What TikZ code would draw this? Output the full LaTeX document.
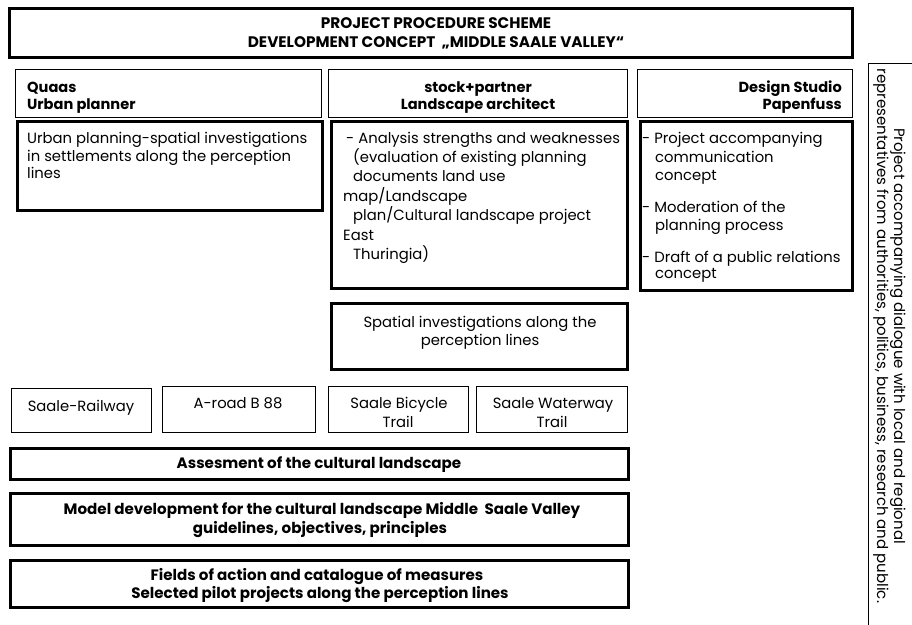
\documentclass[tikz,border=0pt]{standalone}
\usepackage{fontspec}
\setmainfont{Poppins}
\begin{document}
\begin{tikzpicture}[x=1pt,y=-1pt,
  thickbox/.style={draw=black,line width=3.2pt,inner sep=0pt,anchor=north west},
  thinbox/.style={draw=black,line width=0.9pt,inner sep=0pt,anchor=north west},
  body/.style={inner sep=0pt,font=\fontsize{14.8}{17}\selectfont},
  bodyb/.style={inner sep=0pt,font=\fontsize{15.1}{17}\selectfont\bfseries},
  headb/.style={inner sep=0pt,font=\fontsize{14.6}{17}\selectfont\bfseries},
  titleb/.style={inner sep=0pt,font=\fontsize{15.3}{17}\selectfont\bfseries},
  rot/.style={inner sep=0pt,font=\fontsize{15}{17}\selectfont,rotate=-90,anchor=base},
]
\useasboundingbox (0,0) rectangle (912,624);
\fill[white] (0,0) rectangle (912,624);

% boxes
\node[thickbox,minimum width=843pt,minimum height=49pt] (title) at (8,7) {};
\node[thinbox,minimum width=306pt,minimum height=48pt] (qh) at (15,69) {};
\node[thinbox,minimum width=299pt,minimum height=48pt] (sh) at (328,69) {};
\node[thinbox,minimum width=215pt,minimum height=48pt] (dh) at (637,69) {};
\node[thickbox,minimum width=305pt,minimum height=89pt] (qc) at (15.5,119.5) {};
\node[thickbox,minimum width=296pt,minimum height=167.5pt] (sc) at (329.5,119.5) {};
\node[thickbox,minimum width=212pt,minimum height=169pt] (dc) at (638.5,119.5) {};
\node[thickbox,minimum width=296pt,minimum height=66pt] (sp) at (329.5,301.5) {};
\node[thinbox,minimum width=140pt,minimum height=44pt] (rail) at (11,388) {};
\node[thinbox,minimum width=153pt,minimum height=46pt] (road) at (162,386) {};
\node[thinbox,minimum width=140pt,minimum height=46pt] (bike) at (328,386) {};
\node[thinbox,minimum width=151pt,minimum height=46pt] (water) at (476,386) {};
\node[thickbox,minimum width=618pt,minimum height=31pt] (assess) at (8.5,446.5) {};
\node[thickbox,minimum width=618pt,minimum height=52pt] (model) at (8.5,491.5) {};
\node[thickbox,minimum width=618pt,minimum height=47pt] (fields) at (8.5,558.5) {};
\node[thinbox,minimum width=62pt,minimum height=577pt] (dialog) at (868,63) {};

% title
\node[titleb,anchor=base] (t1) at (436,28) {PROJECT PROCEDURE SCHEME};
\node[titleb,anchor=base] (t2) at (436,47) {DEVELOPMENT CONCEPT \ „MIDDLE SAALE VALLEY“};

% headers
\node[headb,anchor=base west] (qh1) at (27,92) {Quaas};
\node[headb,anchor=base west] (qh2) at (27,109) {Urban planner};
\node[headb,anchor=base] (sh1) at (478,92) {stock+partner};
\node[headb,anchor=base] (sh2) at (478,109) {Landscape architect};
\node[headb,anchor=base east] (dh1) at (842,92) {Design Studio};
\node[headb,anchor=base east] (dh2) at (842,109) {Papenfuss};

% Quaas content
\node[body,anchor=base west] (q1) at (27,143) {Urban planning-spatial investigations};
\node[body,anchor=base west] (q2) at (27,161) {in settlements along the perception};
\node[body,anchor=base west] (q3) at (27,178) {lines};

% stock content
\node[body,anchor=base west] (s1) at (346,143) {- Analysis strengths and weaknesses};
\node[body,anchor=base west] (s2) at (353,162) {(evaluation of existing planning};
\node[body,anchor=base west] (s3) at (353,181) {documents land use};
\node[body,anchor=base west] (s4) at (343,201) {map/Landscape};
\node[body,anchor=base west] (s5) at (353,220) {plan/Cultural landscape project};
\node[body,anchor=base west] (s6) at (343,240) {East};
\node[body,anchor=base west] (s7) at (353,259) {Thuringia)};

% design content
\node[body,anchor=base west] (d1) at (642,143) {- Project accompanying};
\node[body,anchor=base west] (d2) at (655,162) {communication};
\node[body,anchor=base west] (d3) at (655,180) {concept};
\node[body,anchor=base west] (d4) at (642,212) {- Moderation of the};
\node[body,anchor=base west] (d5) at (655,230) {planning process};
\node[body,anchor=base west] (d6) at (642,262) {- Draft of a public relations};
\node[body,anchor=base west] (d7) at (655,278) {concept};

% spatial
\node[body,anchor=base] (sp1) at (480,327) {Spatial investigations along the};
\node[body,anchor=base] (sp2) at (480,345) {perception lines};

% perception lines
\node[body,anchor=base] (rail1) at (81,411) {Saale-Railway};
\node[body,anchor=base] (road1) at (238,408) {A-road B 88};
\node[body,anchor=base] (bike1) at (399,408) {Saale Bicycle};
\node[body,anchor=base] (bike2) at (398,427) {Trail};
\node[body,anchor=base] (water1) at (553,408) {Saale Waterway};
\node[body,anchor=base] (water2) at (552,427) {Trail};

% lower boxes
\node[bodyb,anchor=base] (as1) at (319,468) {Assesment of the cultural landscape};
\node[bodyb,anchor=base] (m1) at (322,514) {Model development for the cultural landscape Middle \ Saale Valley};
\node[bodyb,anchor=base] (m2) at (320,533) {guidelines, objectives, principles};
\node[bodyb,anchor=base] (f1) at (317,580) {Fields of action and catalogue of measures};
\node[bodyb,anchor=base] (f2) at (320,598) {Selected pilot projects along the perception lines};

% dialogue
\node[rot] (dl1) at (894,336) {Project accompanying dialogue with local and regional};
\node[rot] (dl2) at (877,336) {representatives from authorities, politics, business, research and public.};
\end{tikzpicture}
\end{document}
